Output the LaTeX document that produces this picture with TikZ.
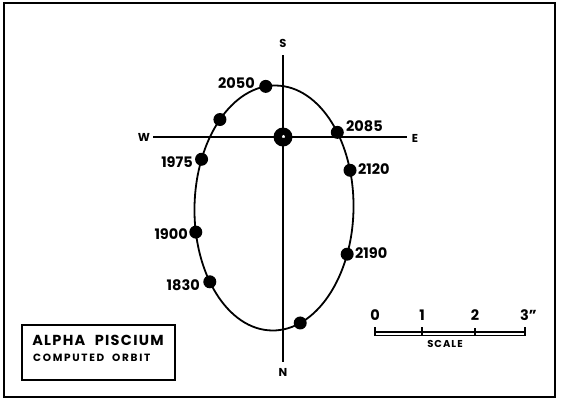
\documentclass[tikz,border=0pt]{standalone}
\usepackage{fontspec}
\setmainfont{Poppins}[Numbers=Proportional]
\usetikzlibrary{shapes.geometric}
\begin{document}
\begin{tikzpicture}[x=1pt,y=-1pt,
  lbl/.style={font=\bfseries\fontsize{14.5}{14.5}\selectfont, inner sep=0},
  dir/.style={font=\bfseries\fontsize{11.5}{11.5}\selectfont, inner sep=0},
  dot/.style={circle, fill=black, minimum size=13pt, inner sep=0},
  axis/.style={line width=1.6pt},
  orbit/.style={line width=1.8pt},
  tick/.style={line width=1.3pt},
]
\useasboundingbox (0,0) rectangle (565,400);
\draw[line width=2pt] (4,2.5) rectangle (555,397);

% axes
\coordinate (s0) at (283,55);
\coordinate (n0) at (283,362);
\coordinate (w0) at (153,137);
\coordinate (e0) at (407,137);
\draw[axis] (s0) -- (n0);
\draw[axis] (w0) -- (e0);
\node[dir] (S) at (283,43) {S};
\node[dir] (N) at (283,372) {N};
\node[dir] (W) at (144,137) {W};
\node[dir] (E) at (415,138) {E};

% star
\node[circle, fill=black, minimum size=19pt, inner sep=0] (star) at (283,137) {};
\node[star, star points=5, fill=white, minimum size=3.5pt, inner sep=0] (starmark) at (283.5,136.5) {};

% orbit
\begin{scope}[shift={(274,208)}, rotate=-1]
  \draw[orbit] (0,0) ellipse [x radius=79.5, y radius=122.5];
  \node[dot] (d2050) at (262.5:79.5 and 122.5) {};
  \node[dot] (du1)   at (225.6:79.5 and 122.5) {};
  \node[dot] (d2085) at (321.2:79.5 and 122.5) {};
  \node[dot] (d1975) at (202.8:79.5 and 122.5) {};
  \node[dot] (d2120) at (341.4:79.5 and 122.5) {};
  \node[dot] (d1900) at (168:79.5 and 122.5) {};
  \node[dot] (d1830) at (142.3:79.5 and 122.5) {};
  \node[dot] (d2190) at (21.5:79.5 and 122.5) {};
  \node[dot] (du2)   at (69.2:79.5 and 122.5) {};
\end{scope}

% year labels
\node[lbl, anchor=east] (l2050) at (255,83) {2050};
\node[lbl, anchor=west] (l2085) at (346,126) {2085};
\node[lbl, anchor=east] (l1975) at (193,162) {1975};
\node[lbl, anchor=west] (l2120) at (358,169) {2120};
\node[lbl, anchor=east] (l1900) at (188,234) {1900};
\node[lbl, anchor=east] (l1830) at (200,285) {1830};
\node[lbl, anchor=west] (l2190) at (355,253) {2190};

% title box
\node[draw, line width=1.4pt, minimum width=153pt, minimum height=55pt, inner sep=0] (box) at (98.5,352.5) {};
\node[font=\bfseries\fontsize{14.5}{14.5}\selectfont\addfontfeatures{LetterSpace=9}, inner sep=0] (title) at (98,340) {ALPHA\hspace{5pt} PISCIUM};
\node[font=\bfseries\fontsize{10.5}{10.5}\selectfont\addfontfeatures{LetterSpace=16}, inner sep=0, anchor=west] (subtitle) at (33,358) {COMPUTED\hspace{4pt} ORBIT};

% scale
\draw[tick] (375,332) rectangle (525,335.5);
\coordinate (t0a) at (375,327); \coordinate (t0b) at (375,336);
\coordinate (t1a) at (422,327); \coordinate (t1b) at (422,336);
\coordinate (t2a) at (475,328); \coordinate (t2b) at (475,336);
\coordinate (t3a) at (525,327); \coordinate (t3b) at (525,336);
\draw[tick] (t0a) -- (t0b);
\draw[tick] (t1a) -- (t1b);
\draw[tick] (t2a) -- (t2b);
\draw[tick] (t3a) -- (t3b);
\node[lbl] (s0l) at (375,315) {0};
\node[lbl] (s1l) at (422,315) {1};
\node[lbl] (s2l) at (475,315) {2};
\node[lbl, anchor=west] (s3l) at (520,315) {3''};
\node[font=\bfseries\fontsize{10}{10}\selectfont\addfontfeatures{LetterSpace=10}, inner sep=0] (scale) at (445,344) {SCALE};
\end{tikzpicture}
\end{document}
